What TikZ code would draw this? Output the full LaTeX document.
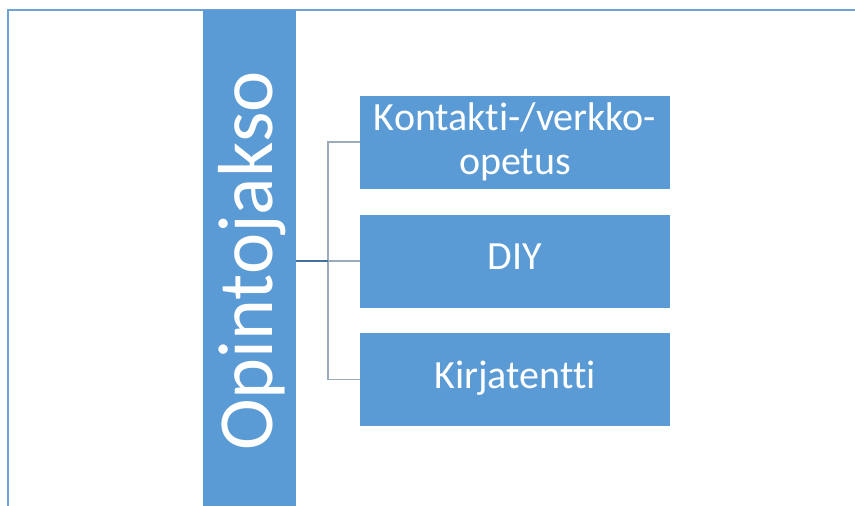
\documentclass[tikz,border=0pt]{standalone}
\usepackage{fontspec}
\setmainfont{Carlito}[Ligatures={NoCommon}]
\definecolor{boxblue}{HTML}{5B9BD5}
\definecolor{framec}{HTML}{6FA3D8}
\definecolor{trunkc}{HTML}{41719C}
\definecolor{branchc}{HTML}{9AABBB}
\begin{document}
\begin{tikzpicture}[x=1pt,y=-1pt,
  boxstyle/.style={fill=boxblue, draw=none, minimum width=310pt, minimum height=93pt,
    inner sep=0pt, text=white, font=\fontsize{40}{44}\selectfont, align=center},
  barstyle/.style={fill=boxblue, draw=none, minimum width=93pt, minimum height=496pt, inner sep=0pt},
  trunk/.style={draw=trunkc, line width=1.8pt},
  branch/.style={draw=branchc, line width=1.3pt}]
\useasboundingbox (0,0) rectangle (855,506);
\fill[white] (0,0) rectangle (855,506);
\draw[framec, line width=1.2pt] (8,506) -- (8,10) -- (855,10);
\node[barstyle] (bar) at (249.5,258) {};
\node[rotate=90, anchor=base, text=white, font=\fontsize{78}{90}\selectfont] (title) at (272,261) {Opintojakso};
\node[boxstyle] (b1) at (515,142) {Kontakti-/verkko-\\opetus};
\node[boxstyle, text height=25pt, text depth=8pt] (b2) at (515,261) {DIY};
\node[boxstyle, text height=25pt, text depth=8pt] (b3) at (515,379.5) {Kirjatentti};
\coordinate (j) at (328,261);
\draw[branch] (b1.west) -| (j) |- (b3.west);
\draw[branch] (j) -- (b2.west);
\draw[trunk] (bar.east |- j) -- (j);
\end{tikzpicture}
\end{document}
